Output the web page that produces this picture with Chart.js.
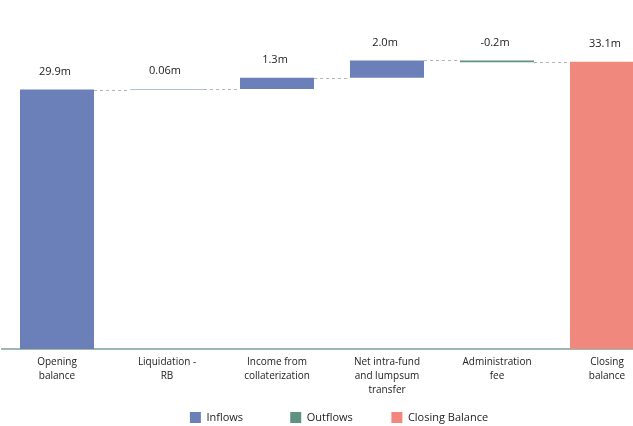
<!DOCTYPE html>
<html>
<head>
<meta charset="utf-8">
<script src="https://cdn.jsdelivr.net/npm/chart.js@4"></script>
<style>
  html, body { margin: 0; padding: 0; background: #fff; overflow: hidden; }
  #wrap { width: 662px; height: 433px; }
</style>
</head>
<body>
<div id="wrap"><canvas id="myChart"></canvas></div>
<script>
// waterfall data (in millions)
var categories = [
	['Opening', 'balance'],
	['Liquidation -', 'RB'],
	['Income from', 'collaterization'],
	['Net intra-fund', 'and lumpsum', 'transfer'],
	['Administration', 'fee'],
	['Closing', 'balance']
];
var changes = [29.9, 0.06, 1.3, 2.0, -0.2, 33.1];
var kinds = ['in', 'in', 'in', 'in', 'out', 'close'];
var valueLabels = ['29.9m', '0.06m', '1.3m', '2.0m', '-0.2m', '33.1m'];
var legendNames = ['Inflows', 'Outflows', 'Closing Balance'];

var colorIn = '#6b80b9';
var colorOut = '#5f9282';
var colorClose = '#f0887e';

// build floating bars from running total
var running = 0;
var ranges = [];
var ends = [];
for (var i = 0; i < changes.length; i++) {
	if (kinds[i] == 'close') {
		ranges.push([0, changes[i]]);
		ends.push(changes[i]);
	} else {
		ranges.push([running, running + changes[i]]);
		running = running + changes[i];
		ends.push(running);
	}
}
function pick(k) {
	return ranges.map(function (r, i) { return kinds[i] == k ? r : null; });
}

var waterfallExtras = {
	id: 'waterfallExtras',
	afterLayout: function (chart) {
		// nudge legend row to the right like the original
		chart.legend.left += 7;
		chart.legend.right += 7;
	},
	afterDatasetsDraw: function (chart) {
		var ctx = chart.ctx;
		var y = chart.scales.y;
		var bars = [];
		chart.data.datasets.forEach(function (ds, d) {
			chart.getDatasetMeta(d).data.forEach(function (el, i) {
				if (ds.data[i] != null) bars[i] = el;
			});
		});
		ctx.save();
		// dashed connectors
		ctx.strokeStyle = '#b5b5b5';
		ctx.lineWidth = 1;
		ctx.setLineDash([3, 3]);
		for (var i = 0; i < bars.length - 1; i++) {
			var yy = Math.round(y.getPixelForValue(ends[i])) + 0.5;
			ctx.beginPath();
			ctx.moveTo(bars[i].x + bars[i].width / 2, yy);
			ctx.lineTo(bars[i + 1].x - bars[i + 1].width / 2, yy);
			ctx.stroke();
		}
		ctx.setLineDash([]);
		// value labels
		ctx.fillStyle = '#222';
		ctx.font = "11px 'Open Sans'";
		ctx.textAlign = 'center';
		ctx.textBaseline = 'middle';
		for (var j = 0; j < bars.length; j++) {
			var top = Math.min(bars[j].y, bars[j].base);
			ctx.fillText(valueLabels[j], bars[j].x - 2, top - 18);
		}
		ctx.restore();
	}
};

Chart.defaults.font.family = "'Open Sans', sans-serif";
Chart.defaults.color = '#222';

var ctx = document.getElementById('myChart').getContext('2d');
var myChart = new Chart(ctx, {
	type: 'bar',
	data: {
		labels: categories,
		datasets: [
			{ label: legendNames[0], data: pick('in'), backgroundColor: colorIn },
			{ label: legendNames[1], data: pick('out'), backgroundColor: colorOut },
			{ label: legendNames[2], data: pick('close'), backgroundColor: colorClose }
		]
	},
	options: {
		responsive: true,
		maintainAspectRatio: false,
		animation: false,
		layout: { padding: { top: 2, left: 2, right: 0, bottom: 0 } },
		datasets: {
			bar: { grouped: false, categoryPercentage: 1, barPercentage: 0.673, borderSkipped: false }
		},
		scales: {
			x: {
				grid: { display: false, drawTicks: false },
				border: { display: true, color: '#9db8ac', width: 2 },
				ticks: { padding: 6, maxRotation: 0, autoSkip: false, font: { size: 10, lineHeight: 1.4 }, color: '#222' },
				afterFit: function (scale) { scale.height = 53; }
			},
			y: {
				display: false,
				min: 0,
				max: 40
			}
		},
		plugins: {
			tooltip: { enabled: false },
			legend: {
				position: 'bottom',
				labels: {
					boxWidth: 11,
					boxHeight: 11,
					padding: 10,
					font: { size: 11 },
					color: '#222',
					generateLabels: function (chart) {
						var items = Chart.defaults.plugins.legend.labels.generateLabels(chart);
						var pad = ['             ', '          ', ''];
						items.forEach(function (it, i) {
							it.lineWidth = 0;
							it.text = it.text + pad[i];
						});
						return items;
					}
				}
			}
		}
	},
	plugins: [waterfallExtras]
});
</script>
</body>
</html>
